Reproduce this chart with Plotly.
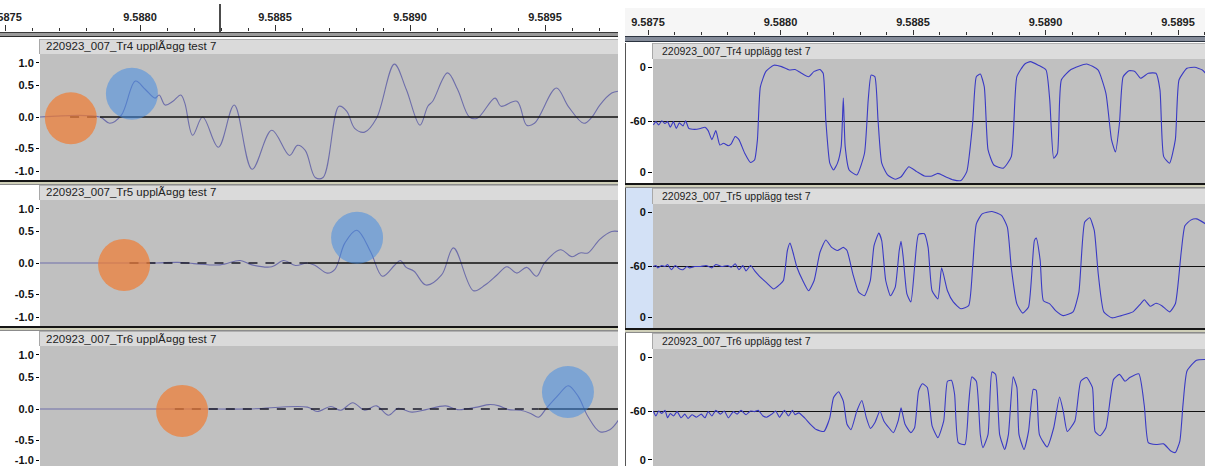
import numpy as np
import plotly.graph_objects as go

W, H = 1205, 466
T0 = 9.5875  # seconds; all times below are microseconds after T0

# ---------------- LEFT VIEW: linear waveform (amplitude -1..1) ----------------
tr4_lin_us = [126, 351, 388, 431, 483, 519, 556, 571, 593, 622, 651, 666, 695, 732, 790, 849, 915,
              988, 1054, 1083, 1112, 1149, 1178, 1237, 1266, 1295, 1332, 1376, 1442, 1486, 1537,
              1566, 1584, 1639, 1676, 1720, 1749, 1815, 1837, 1896, 1932, 1961, 2042, 2086, 2144,
              2174, 2203, 2247, 2273]
tr4_lin_amp = [0, 0, -0.10, 0.03, 0.57, 0.44, 0.30, 0.35, 0.19, 0.25, 0.35, 0.22, -0.29, 0.0, -0.48,
               0.19, -0.83, -0.21, -0.61, -0.45, -0.53, -0.96, -0.96, 0.17, 0.09, -0.18, -0.24,
               -0.02, 0.84, 0.44, -0.13, 0.17, 0.25, 0.70, 0.44, 0.0, -0.02, 0.30, 0.17, 0.25,
               -0.13, -0.10, 0.46, 0.17, -0.10, 0.0, 0.19, 0.38, 0.41]

tr5_lin_us = [126, 461, 560, 640, 700, 797, 871, 915, 988, 1032, 1076, 1120, 1149, 1193, 1222, 1259,
              1303, 1354, 1398, 1442, 1464, 1486, 1515, 1559, 1617, 1661, 1735, 1778, 1822, 1859,
              1896, 1932, 1969, 1998, 2057, 2100, 2130, 2159, 2203, 2247, 2273]
tr5_lin_amp = [0, 0, 0.0, 0.01, -0.01, -0.03, 0.04, -0.03, -0.06, 0.04, -0.04, 0.0, -0.04, -0.16,
               -0.10, 0.32, 0.52, 0.18, -0.21, -0.04, 0.04, -0.07, -0.13, -0.35, -0.19, 0.24,
               -0.44, -0.35, -0.19, -0.06, -0.16, -0.07, -0.21, 0.0, 0.21, 0.10, 0.16, 0.16,
               0.376, 0.50, 0.50]

tr6_lin_us = [126, 563, 629, 739, 900, 1120, 1156, 1207, 1244, 1288, 1332, 1376, 1420, 1456, 1507,
              1559, 1632, 1676, 1749, 1793, 1830, 1866, 1910, 1947, 1976, 2005, 2049, 2086, 2123,
              2159, 2203, 2240, 2273]
tr6_lin_amp = [0, 0, 0, 0, 0.0, 0.03, -0.04, 0.04, -0.02, 0.10, -0.02, 0.05, -0.10, 0.01, -0.05,
               -0.01, 0.05, -0.01, 0.03, 0.07, 0.05, -0.01, -0.02, -0.07, -0.13, 0.01, 0.22,
               0.37, 0.20, -0.12, -0.36, -0.33, -0.17]

# clip centre line: start of quiet (dashed-looking) part and start of solid part
lin_dash_start_us = [241, 461, 629]
lin_solid_start_us = [352, 1120, 1976]

# highlighted features: orange = onset, blue = first peak
onset_us = [244, 441, 656]
onset_amp = [-0.02, -0.03, -0.03]
peak_us = [470, 1304, 2085]
peak_amp = [0.37, 0.40, 0.27]

# ---------------- RIGHT VIEW: dB waveform (centre -60 dB, edges 0 dB), signed ----------------
tr4_db_us = [20, 30, 40, 52, 64, 74, 84, 96, 107, 118, 132, 142, 154, 176, 198, 215, 227, 241, 256,
             271, 285, 303, 314, 329, 343, 365, 387, 402, 413, 424, 445, 475, 504, 533, 555, 576,
             606, 627, 649, 661, 671, 686, 700, 715, 729, 737, 744, 759, 788, 817, 831, 842, 856,
             868, 882, 904, 933, 955, 984, 1014, 1043, 1072, 1094, 1123, 1152, 1181, 1203, 1225,
             1239, 1254, 1269, 1283, 1305, 1341, 1371, 1392, 1422, 1443, 1473, 1502, 1516, 1531,
             1545, 1560, 1596, 1655, 1698, 1728, 1749, 1764, 1779, 1793, 1815, 1837, 1859, 1888,
             1917, 1932, 1946, 1968, 1990, 2004, 2034, 2063, 2092, 2104]
tr4_db_amp = [-0.065, -0.01, -0.065, 0.005, -0.04, -0.01, -0.10, -0.01, -0.12, -0.03, -0.08, 0.005,
              -0.12, -0.135, -0.12, -0.10, -0.156, -0.30, -0.156, -0.387, -0.36, -0.40, -0.37,
              -0.25, -0.30, -0.52, -0.67, -0.63, -0.30, 0.55, 0.80, 0.90, 0.877, 0.823, 0.83, 0.78,
              0.715, 0.80, 0.83, 0.77, 0.016, -0.68, -0.79, -0.68, -0.41, 0.37, -0.41, -0.79,
              -0.87, -0.52, 0.34, 0.74, 0.715, 0.016, -0.68, -0.87, -0.94, -0.90, -0.737, -0.817,
              -0.887, -0.887, -0.845, -0.90, -0.95, -0.96, -0.817, -0.04, 0.715, 0.757, 0.55,
              -0.46, -0.71, -0.76, -0.575, 0.715, 0.92, 0.957, 0.90, 0.823, 0.34, -0.60, -0.52,
              0.665, 0.83, 0.92, 0.823, 0.447, -0.30, -0.50, -0.04, 0.715, 0.81, 0.80, 0.69, 0.77,
              0.77, 0.50, -0.575, -0.68, -0.30, 0.665, 0.85, 0.866, 0.823, 0.77]

tr5_db_us = [20, 30, 37, 52, 64, 74, 88, 103, 118, 132, 147, 157, 176, 198, 219, 241, 256, 278, 300,
             314, 329, 343, 358, 370, 387, 402, 424, 445, 475, 497, 511, 526, 536, 547, 562, 584,
             606, 627, 649, 671, 693, 715, 737, 751, 773, 795, 817, 839, 853, 871, 882, 897, 915,
             933, 948, 955, 963, 977, 992, 1006, 1021, 1043, 1057, 1072, 1094, 1108, 1130, 1152,
             1181, 1210, 1225, 1239, 1261, 1298, 1334, 1356, 1371, 1392, 1414, 1436, 1458, 1465,
             1480, 1492, 1516, 1538, 1567, 1604, 1626, 1648, 1667, 1684, 1699, 1720, 1750, 1786,
             1830, 1859, 1873, 1895, 1917, 1939, 1968, 1990, 2012, 2026, 2048, 2070, 2104]
tr5_db_amp = [-0.008, 0.008, -0.03, 0.008, -0.008, 0.024, -0.06, 0.008, -0.046, -0.06, -0.008,
              -0.03, -0.008, -0.008, 0.008, -0.03, 0.024, -0.008, 0.008, -0.02, 0.035, -0.06,
              0.008, -0.08, 0.008, -0.073, -0.18, -0.26, -0.37, -0.30, -0.234, 0.25, 0.37, 0.222,
              -0.02, -0.234, -0.40, -0.234, 0.222, 0.42, 0.30, 0.25, 0.30, 0.25, -0.126, -0.42,
              -0.48, -0.234, 0.33, 0.53, 0.41, -0.234, -0.48, -0.34, 0.25, 0.40, 0.142, -0.45,
              -0.58, -0.02, 0.51, 0.52, 0.30, -0.40, -0.53, -0.03, -0.40, -0.58, -0.69, -0.64,
              -0.02, 0.68, 0.84, 0.88, 0.815, 0.626, -0.03, -0.61, -0.76, -0.66, 0.41, 0.45, 0.089,
              -0.56, -0.61, -0.72, -0.80, -0.74, -0.42, 0.71, 0.777, 0.573, -0.126, -0.74, -0.836,
              -0.80, -0.74, -0.61, -0.545, -0.65, -0.60, -0.64, -0.74, -0.61, 0.222, 0.65, 0.74,
              0.76, 0.68]

tr6_db_us = [20, 30, 40, 52, 64, 74, 84, 96, 110, 125, 139, 151, 166, 183, 201, 215, 227, 241, 256,
             273, 288, 303, 322, 336, 351, 370, 387, 402, 416, 434, 448, 467, 482, 496, 515, 530,
             545, 555, 569, 591, 613, 635, 664, 686, 700, 719, 737, 751, 766, 788, 807, 824, 839,
             856, 875, 890, 909, 926, 944, 955, 970, 992, 1006, 1021, 1035, 1054, 1072, 1094, 1116,
             1130, 1145, 1157, 1171, 1196, 1210, 1222, 1239, 1254, 1264, 1283, 1298, 1312, 1327,
             1346, 1360, 1378, 1392, 1400, 1419, 1436, 1454, 1465, 1477, 1506, 1531, 1553, 1567,
             1582, 1611, 1633, 1655, 1677, 1687, 1706, 1728, 1757, 1779, 1800, 1818, 1852, 1873,
             1888, 1917, 1946, 1973, 1990, 2007, 2019, 2034, 2070, 2104]
tr6_db_amp = [0, -0.08, 0, -0.04, 0.01, -0.11, -0.04, -0.08, -0.01, -0.11, -0.05, -0.12, -0.06,
              -0.10, -0.05, -0.11, -0.01, -0.08, 0.01, -0.05, 0, -0.11, -0.01, -0.05, 0.01, -0.06,
              0, -0.01, 0.01, -0.08, -0.10, -0.05, 0, -0.10, 0.01, -0.08, 0.01, -0.06, -0.03,
              -0.11, -0.215, -0.30, -0.33, -0.11, 0.215, 0.31, 0.16, -0.215, -0.30, 0, 0.17, -0.11,
              -0.28, -0.19, 0, -0.16, -0.27, -0.35, -0.16, 0.05, -0.215, -0.35, -0.27, 0.32, 0.44,
              0.38, -0.24, -0.43, -0.16, 0.48, 0.495, 0.27, -0.51, -0.54, 0.11, 0.55, 0.48, -0.38,
              -0.59, -0.38, 0.63, 0.59, -0.38, -0.62, -0.38, 0.55, 0.38, -0.38, -0.62, -0.33, 0.35,
              0.333, -0.38, -0.58, -0.27, 0.226, 0.0, -0.33, -0.16, 0.48, 0.54, 0.38, -0.33, -0.40,
              -0.27, 0.51, 0.59, 0.48, 0.54, 0.60, 0.08, -0.51, -0.54, -0.53, -0.645, -0.67,
              -0.484, 0.11, 0.645, 0.82, 0.83]

names_left = ["220923_007_Tr4 upplÃ¤gg test 7", "220923_007_Tr5 upplÃ¤gg test 7",
              "220923_007_Tr6 upplÃ¤gg test 7"]
names_right = ["220923_007_Tr4 upplägg test 7", "220923_007_Tr5 upplägg test 7",
               "220923_007_Tr6 upplägg test 7"]
lin_ticktext = ["1.0", "0.5", "0.0", "-0.5", "-1.0"]
db_ticktext = ["0", "-60", "0"]

# ---------------- helpers ----------------
def t(us):
    return T0 + np.asarray(us, dtype=float) * 1e-6

shapes = []
def rect(x0, y0, x1, y1, fill, layer="above"):
    shapes.append(dict(type="rect", xref="paper", yref="paper", x0=x0 / W, x1=x1 / W,
                       y0=1 - y1 / H, y1=1 - y0 / H, fillcolor=fill, line=dict(width=0),
                       layer=layer))
def seg(x0, y0, x1, y1, color, width=1):
    shapes.append(dict(type="line", xref="paper", yref="paper", x0=x0 / W, x1=x1 / W,
                       y0=1 - y0 / H, y1=1 - y1 / H, line=dict(color=color, width=width)))

FONT = "Liberation Sans, Arial, sans-serif"
fig = go.Figure()
layout = dict(width=W, height=H, margin=dict(l=0, r=0, t=0, b=0), template="none",
              paper_bgcolor="white", plot_bgcolor="#c0c0c0", showlegend=False,
              font=dict(family=FONT, size=11, color="#222"))
annotations = []

# left geometry
LX0, LX1 = 40, 618
L_PPU = 135 / 500.0           # pixels per microsecond
L_T0PX = 5                    # pixel of T0
def lus(px): return (px - L_T0PX) / L_PPU
cL = [117, 263, 409]; hL = 63
# right geometry
RX0, RX1 = 653, 1205
R_PPU = 132.5 / 500.0
R_T0PX = 648
def rus(px): return (px - R_T0PX) / R_PPU
cR = [121, 266, 411]; hR = 62

lin_sets = [(tr4_lin_us, tr4_lin_amp), (tr5_lin_us, tr5_lin_amp), (tr6_lin_us, tr6_lin_amp)]
db_sets = [(tr4_db_us, tr4_db_amp), (tr5_db_us, tr5_db_amp), (tr6_db_us, tr6_db_amp)]

for k in range(3):
    # ---------- left track ----------
    ax = "" if k == 0 else str(k + 1)
    c = cL[k]
    top, bot = c - hL, min(c + hL, H)
    low_tick = -0.86 if c + hL <= H else -0.81   # keep the bottom label inside the page
    layout["xaxis" + ax] = dict(domain=[LX0 / W, LX1 / W], range=[t(lus(LX0)), t(lus(LX1))],
                                visible=False, anchor="y" + ax, fixedrange=True)
    layout["yaxis" + ax] = dict(domain=[1 - bot / H, 1 - top / H],
                                range=[-(bot - c) / hL, (c - top) / hL], anchor="x" + ax,
                                tickmode="array", tickvals=[0.86, 0.5, 0, -0.5, low_tick],
                                ticktext=lin_ticktext, ticks="outside", ticklen=3,
                                tickcolor="#000", showgrid=False, zeroline=False,
                                showline=False, automargin=False, fixedrange=True,
                                ticklabeloverflow="allow",
                                tickfont=dict(family=FONT, size=11, color="#111", weight="bold"))
    us, amp = lin_sets[k]
    fig.add_trace(go.Scatter(x=t(us), y=amp, mode="lines", xaxis="x" + ax, yaxis="y" + ax,
                             line=dict(color="#6e6eaa", width=1.1, shape="spline", smoothing=1.0),
                             hoverinfo="skip"))
    # clip centre line (dashed in quiet part, solid afterwards), drawn over the wave
    fig.add_trace(go.Scatter(x=t([lin_dash_start_us[k], lin_solid_start_us[k]]), y=[0, 0],
                             mode="lines", xaxis="x" + ax, yaxis="y" + ax,
                             line=dict(color="#1a1a2a", width=1.7, dash="9px,8px"),
                             hoverinfo="skip"))
    fig.add_trace(go.Scatter(x=t([lin_solid_start_us[k], max(us)]), y=[0, 0],
                             mode="lines", xaxis="x" + ax, yaxis="y" + ax,
                             line=dict(color="#111", width=1.3), hoverinfo="skip"))
    # highlight circles
    for cx, cy, col in [(onset_us[k], onset_amp[k], "rgba(238,125,53,0.72)"),
                        (peak_us[k], peak_amp[k], "rgba(70,140,225,0.55)")]:
        shapes.append(dict(type="circle", xref="x" + ax, yref="y" + ax, xsizemode="pixel",
                           ysizemode="pixel", xanchor=t(cx), yanchor=cy, x0=-26, x1=26,
                           y0=-26, y1=26, fillcolor=col, line=dict(width=0), layer="above"))
    # header bar
    h0, h1 = c - hL - 15, c - hL
    rect(LX0, h0, LX1, h1, "#dadada")
    seg(LX0, h0 + 0.5, LX1, h0 + 0.5, "#b0b0b0")
    seg(LX0 - 0.5, h0, LX0 - 0.5, h1, "#a8a8a8")
    annotations.append(dict(xref="paper", yref="paper", x=(LX0 + 4) / W, y=1 - (h0 + h1) / 2 / H,
                            xanchor="left", yanchor="middle", showarrow=False, text=names_left[k],
                            font=dict(family=FONT, size=11.5, color="#222")))
    if k < 2:
        rect(0, c + hL, LX1, c + hL + 2, "#151515")
        rect(0, c + hL + 2, LX1, c + hL + 4, "#cfcfb8")
        rect(0, c + hL + 4, LX1, c + hL + 5, "#8c8c8c")

    # ---------- right track ----------
    ax = str(k + 4)
    c = cR[k]
    top, bot = c - hR, min(c + hR, H)
    low_tick = -0.83 if c + hR <= H else -0.79
    layout["xaxis" + ax] = dict(domain=[RX0 / W, RX1 / W], range=[t(rus(RX0)), t(rus(RX1))],
                                visible=False, anchor="y" + ax, fixedrange=True)
    layout["yaxis" + ax] = dict(domain=[1 - bot / H, 1 - top / H],
                                range=[-(bot - c) / hR, (c - top) / hR], anchor="x" + ax,
                                tickmode="array", tickvals=[0.87, 0, low_tick],
                                ticktext=db_ticktext, ticks="outside", ticklen=4,
                                tickcolor="#000", showgrid=False, zeroline=True,
                                zerolinecolor="#111", zerolinewidth=1.2,
                                showline=False, automargin=False, fixedrange=True,
                                ticklabeloverflow="allow",
                                tickfont=dict(family=FONT, size=11, color="#111", weight="bold"))
    us, amp = db_sets[k]
    fig.add_trace(go.Scatter(x=t(us), y=amp, mode="lines", xaxis="x" + ax, yaxis="y" + ax,
                             line=dict(color="#3a3ac4", width=1.1, shape="spline", smoothing=0.5),
                             hoverinfo="skip"))
    h0, h1 = c - hR - 16, c - hR
    rect(RX0, h0, RX1, h1, "#dcdcdc")
    seg(RX0, h0 + 0.5, RX1, h0 + 0.5, "#b0b0b0")
    ctrl = "#d3e1f6" if k == 1 else "#ffffff"
    rect(625, h0, RX0, bot, ctrl, layer="below")
    seg(625.5, h0, 625.5, bot, "#555")
    seg(RX0 - 0.5, h0, RX0 - 0.5, h1, "#a8a8a8")
    annotations.append(dict(xref="paper", yref="paper", x=(RX0 + 7) / W, y=1 - (h0 + h1) / 2 / H,
                            xanchor="left", yanchor="middle", showarrow=False, text=names_right[k],
                            font=dict(family=FONT, size=10.5, color="#222")))
    if k < 2:
        rect(625, c + hR, RX1, c + hR + 2, "#151515")
        rect(625, c + hR + 2, RX1, c + hR + 4, "#cfcfb8")
        rect(625, c + hR + 4, RX1, c + hR + 5, "#8c8c8c")

# ---------------- time rulers ----------------
ruler_common = dict(tickmode="linear", tick0=T0, dtick=0.0005, tickformat=".4f", ticks="outside",
                    tickcolor="#333", tickwidth=1, showline=False, showgrid=False, zeroline=False,
                    side="top", ticklabeloverflow="allow", automargin=False, fixedrange=True,
                    tickfont=dict(family=FONT, size=11, color="#222", weight="bold"))
layout["xaxis7"] = dict(domain=[0, LX1 / W], range=[t(lus(0)), t(lus(LX1))], anchor="y7",
                        ticklen=6, minor=dict(dtick=0.0001, ticklen=3, ticks="outside",
                                              tickcolor="#333"), **ruler_common)
layout["yaxis7"] = dict(domain=[1 - 37 / H, 1 - 32 / H], range=[0, 1], visible=False,
                        anchor="x7", fixedrange=True)
layout["xaxis8"] = dict(domain=[625 / W, 1], range=[t(rus(625)), t(rus(RX1))], anchor="y8",
                        ticklen=5, minor=dict(dtick=0.0001, ticklen=3, ticks="outside",
                                              tickcolor="#333"), **ruler_common)
layout["yaxis8"] = dict(domain=[1 - 42 / H, 1 - 36 / H], range=[0, 1], visible=False,
                        anchor="x8", fixedrange=True)
fig.add_trace(go.Scatter(x=[None], y=[None], xaxis="x7", yaxis="y7", hoverinfo="skip"))
fig.add_trace(go.Scatter(x=[None], y=[None], xaxis="x8", yaxis="y8", hoverinfo="skip"))

# ruler decorations
rect(625, 8, 1205, 36, "#f6f6f6", layer="below")
rect(0, 32, LX1, 37, "#9a9a9a")
seg(0, 32.5, LX1, 32.5, "#3a3a3a")
seg(0, 36.5, LX1, 36.5, "#2a2a2a")
rect(625, 36, 1205, 42, "#858c9a")
seg(625, 36.5, 1205, 36.5, "#2c3440", 1.2)
seg(625, 41.5, 1205, 41.5, "#2c3440", 1.2)
seg(220, 4, 220, 32, "#111", 1.5)

layout["shapes"] = shapes
layout["annotations"] = annotations
fig.update_layout(**layout)
fig.write_html("out.html", config={"displayModeBar": False},
               post_script="document.body.style.margin='0';document.body.style.padding='0';"
                           "document.body.style.overflow='hidden';")
